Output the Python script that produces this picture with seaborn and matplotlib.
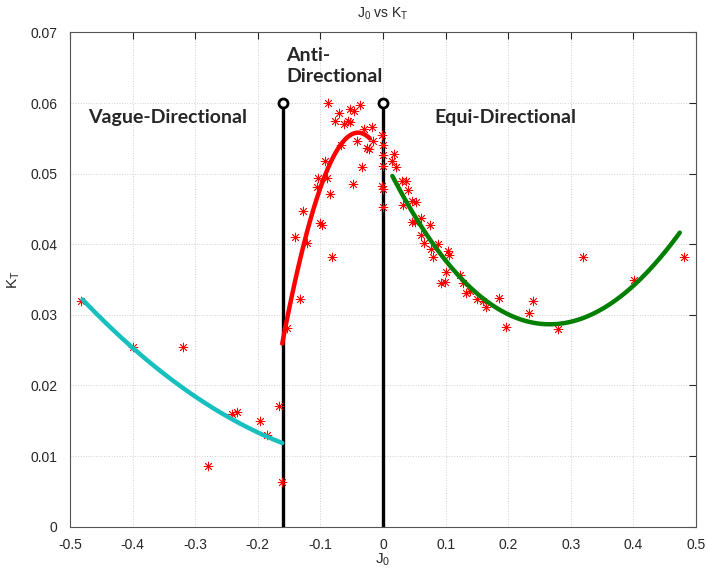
import numpy as np
import pandas as pd
import matplotlib
matplotlib.use("Agg")
import matplotlib.pyplot as plt
import seaborn as sns

# Measured (J0, KT) samples
j0 = [-0.482, -0.400, -0.320, -0.280, -0.241, -0.234, -0.197, -0.186, -0.166, -0.161,
      -0.153, -0.132, -0.088, -0.070, -0.052, -0.047, -0.036, -0.076, -0.062, -0.056,
      -0.052, -0.031, -0.018, -0.042, -0.016, -0.026, -0.022, -0.067, -0.093, -0.033,
      -0.104, -0.090, -0.106, -0.048, -0.084, -0.128, -0.101, -0.098, -0.141, -0.122,
      -0.081,
      -0.001, 0.000, 0.000, 0.000, -0.001, 0.000, 0.000,
      0.018, 0.014, 0.021, 0.030, 0.036, 0.040, 0.032, 0.046, 0.052, 0.046,
      0.051, 0.061, 0.075, 0.061, 0.066, 0.088, 0.077, 0.080, 0.104, 0.105,
      0.100, 0.093, 0.099, 0.123, 0.127, 0.132, 0.139, 0.150, 0.159, 0.164,
      0.185, 0.197, 0.233, 0.240, 0.280, 0.320, 0.401, 0.480]
kt = [0.0319, 0.0255, 0.0255, 0.0086, 0.0160, 0.0162, 0.0150, 0.0130, 0.0171, 0.0063,
      0.0281, 0.0322, 0.0600, 0.0586, 0.0591, 0.0589, 0.0597, 0.0575, 0.0571, 0.0574,
      0.0573, 0.0564, 0.0566, 0.0547, 0.0547, 0.0537, 0.0535, 0.0541, 0.0518, 0.0509,
      0.0494, 0.0494, 0.0481, 0.0485, 0.0471, 0.0447, 0.0430, 0.0428, 0.0410, 0.0402,
      0.0382,
      0.0555, 0.0541, 0.0527, 0.0511, 0.0482, 0.0478, 0.0453,
      0.0528, 0.0518, 0.0509, 0.0490, 0.0489, 0.0477, 0.0456, 0.0461, 0.0460, 0.0432,
      0.0432, 0.0437, 0.0428, 0.0413, 0.0402, 0.0400, 0.0393, 0.0382, 0.0390, 0.0385,
      0.0361, 0.0345, 0.0347, 0.0357, 0.0345, 0.0331, 0.0334, 0.0322, 0.0319, 0.0311,
      0.0324, 0.0283, 0.0302, 0.0319, 0.0280, 0.0382, 0.0350, 0.0382]

# Regime boundaries
boundaries = [-0.16, 0.0]
boundary_top = 0.06

# Fitted curves: y = y0 + q*(x - x0)^2 + c*(x - x0)^3 over [lo, hi]
fit_names = ["vague", "anti", "equi"]
fit_lo = [-0.480, -0.161, 0.015]
fit_hi = [-0.161, -0.021, 0.474]
fit_x0 = [0.0300, -0.0399, 0.2663]
fit_y0 = [0.00854, 0.05581, 0.02867]
fit_q = [0.0909, -2.28, 0.3152]
fit_c = [0.0, -2.0, -0.0688]
fit_colors = ["#17bfbf", "#ff0000", "#007f00"]

region_labels = ["Vague-Directional", "Anti-\nDirectional", "Equi-Directional"]
label_x = [-0.344, -0.154, 0.196]
label_y = [0.058, 0.0652, 0.058]

x_ticks = [-0.5, -0.4, -0.3, -0.2, -0.1, 0, 0.1, 0.2, 0.3, 0.4, 0.5]
y_ticks = [0, 0.01, 0.02, 0.03, 0.04, 0.05, 0.06, 0.07]

sns.set_style("white")
plt.rcParams["font.family"] = ["Liberation Sans", "DejaVu Sans"]
plt.rcParams["axes.unicode_minus"] = False
plt.rcParams["mathtext.fontset"] = "custom"
plt.rcParams["mathtext.rm"] = "Liberation Sans"
plt.rcParams["mathtext.it"] = "Liberation Sans"

fig = plt.figure(figsize=(7.07, 5.71), dpi=100)
ax = fig.add_axes([0.099, 0.0776, 0.8855, 0.8655])

curves = []
for name, lo, hi, x0, y0, q, c in zip(fit_names, fit_lo, fit_hi, fit_x0, fit_y0, fit_q, fit_c):
    xs = np.linspace(lo, hi, 120)
    d = xs - x0
    curves.append(pd.DataFrame({"J0": xs, "KT": y0 + q * d**2 + c * d**3, "fit": name}))
curve_df = pd.concat(curves, ignore_index=True)

for xb in boundaries:
    ax.plot([xb, xb], [0, boundary_top], color="black", lw=2.4, zorder=3)
    ax.plot([xb], [boundary_top], marker="o", ms=6.5, mfc="white", mec="black",
            mew=2.0, zorder=4, clip_on=False)

sns.scatterplot(x=j0, y=kt, ax=ax, marker=(8, 2, 0), s=40, color="red",
                linewidth=0.6, edgecolor="red", zorder=5)

sns.lineplot(data=curve_df, x="J0", y="KT", hue="fit", palette=dict(zip(fit_names, fit_colors)),
             estimator=None, sort=False, lw=3.2, ax=ax, legend=False, zorder=6)

for txt, tx, ty in zip(region_labels, label_x, label_y):
    ha = "left" if "\n" in txt else "center"
    ax.text(tx, ty, txt, ha=ha, va="center", fontsize=14, fontweight="bold",
            family=["Lato", "DejaVu Sans"], linespacing=1.3, zorder=7)

ax.set_xlim(-0.5, 0.5)
ax.set_ylim(0, 0.07)
ax.set_xticks(x_ticks)
ax.set_yticks(y_ticks)
ax.set_xticklabels(["%g" % v for v in x_ticks])
ax.set_yticklabels(["%g" % v for v in y_ticks])
ax.tick_params(direction="in", length=5, width=0.8, top=True, right=True,
               labelsize=10, colors="#262626")
ax.tick_params(axis="x", pad=8)
ax.tick_params(axis="y", pad=9)
ax.grid(True, linestyle=":", color="#d0d0d0", lw=0.7)
for s in ax.spines.values():
    s.set_color("#555555")
    s.set_linewidth(0.8)

ax.set_xlabel(r"$\mathregular{J_0}$", fontsize=11, labelpad=0)
ax.set_ylabel(r"$\mathregular{K_T}$", fontsize=11, labelpad=6)
ax.set_title(r"$\mathregular{J_0}$ vs $\mathregular{K_T}$", fontsize=10, pad=11)

fig.savefig("out.png", dpi=100)
